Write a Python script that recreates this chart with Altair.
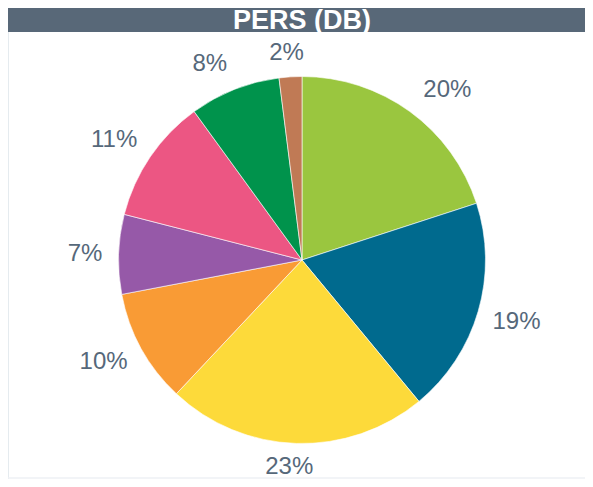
import altair as alt
import pandas as pd

labels = ["20%", "19%", "23%", "10%", "7%", "11%", "8%", "2%"]
values = [20, 19, 23, 10, 7, 11, 8, 2]
colors = ["#9AC63F", "#006A8E", "#FDDA3A", "#F99B35", "#9659A8", "#EC5683", "#00934C", "#C07A55"]
title = "PERS (DB)"

# label nudges (pixels) relative to the mid-angle position
label_nudge = {
    "20%": (19, 4), "19%": (8, 2), "23%": (-6, -8), "10%": (-10, -2),
    "7%": (-2, 1), "11%": (-10, 1), "8%": (-13, 4), "2%": (-2, 8),
}

df = pd.DataFrame({"label": labels, "value": values, "order": list(range(len(values)))})

W, H = 577, 471
cx, cy = 294, 252

base = alt.Chart(df).encode(
    theta=alt.Theta("value:Q", stack=True),
    order=alt.Order("order:Q"),
)

arcs = base.mark_arc(radius=183.5, stroke="white", strokeWidth=0.6).encode(
    color=alt.Color("label:N", scale=alt.Scale(domain=labels, range=colors), legend=None),
    x=alt.value(cx), y=alt.value(cy),
)

text_layers = []
for lab in labels:
    ddx, ddy = label_nudge[lab]
    text_layers.append(
        base.mark_text(radius=215, dx=ddx, dy=ddy, fontSize=24, font="Liberation Sans",
                       color="#56687A").encode(
            text="label:N",
            x=alt.value(cx), y=alt.value(cy),
            opacity=alt.condition(alt.datum.label == lab, alt.value(1), alt.value(0)),
        )
    )

bar = alt.Chart(pd.DataFrame({"t": [title]})).mark_rect(color="#586878").encode(
    x=alt.value(0), x2=alt.value(W), y=alt.value(0), y2=alt.value(24)
)
bar_text = alt.Chart(pd.DataFrame({"t": [title]})).mark_text(
    fontSize=27, fontWeight="bold", font="Liberation Sans", color="white", baseline="alphabetic"
).encode(text="t:N", x=alt.value(294), y=alt.value(21))

left_border = alt.Chart(pd.DataFrame({"t": [0]})).mark_rule(color="#DDE4EA", strokeWidth=1.5).encode(
    x=alt.value(0), y=alt.value(24), y2=alt.value(H)
)
bottom_border = alt.Chart(pd.DataFrame({"t": [0]})).mark_rule(color="#EEF1F4", strokeWidth=1.5).encode(
    x=alt.value(0), x2=alt.value(W), y=alt.value(H - 1)
)

chart = alt.layer(bar, bar_text, arcs, *text_layers, left_border, bottom_border).properties(
    width=W, height=H, padding=0, autosize=alt.AutoSizeParams(type="none")
).configure_view(stroke=None)

chart.save("out.html", embed_options={"renderer": "svg", "actions": False})
